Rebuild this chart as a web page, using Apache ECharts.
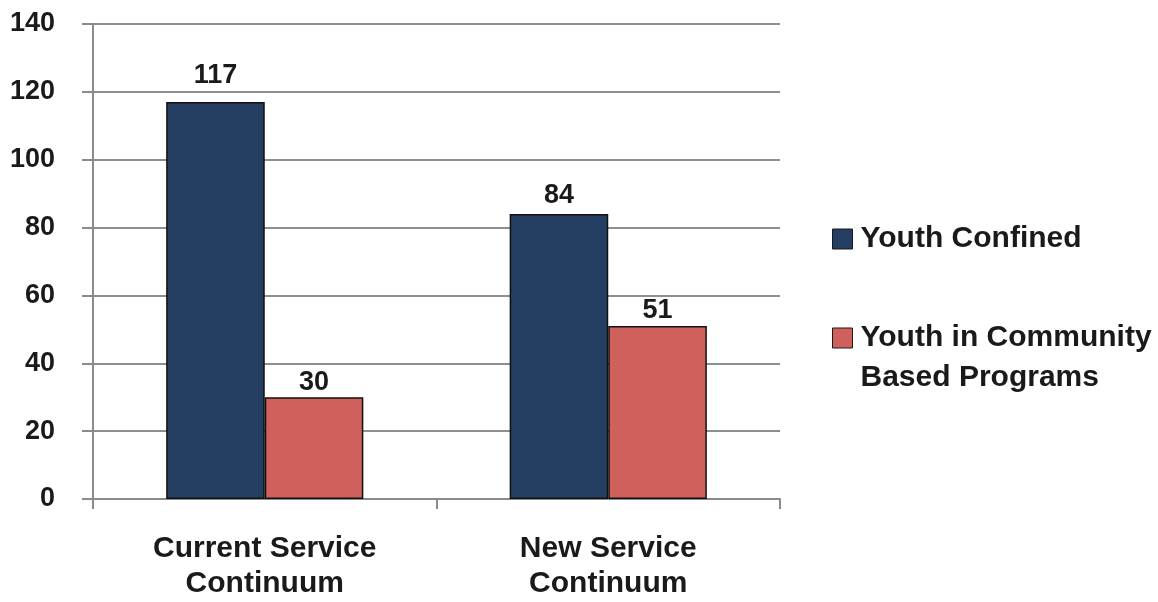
<!DOCTYPE html>
<html>
<head>
<meta charset="utf-8">
<style>
  html, body { margin: 0; padding: 0; background: #ffffff; }
  #chart { width: 1158px; height: 602px; }
</style>
<script src="https://cdn.jsdelivr.net/npm/echarts@6/dist/echarts.min.js"></script>
</head>
<body>
<div id="chart"></div>
<script>
// Categories and values
const categories = ['Current Service\nContinuum', 'New Service\nContinuum'];
const confined = [117, 84];
const community = [30, 51];
const seriesNames = ['Youth Confined', 'Youth in Community Based Programs'];
const yTicks = { min: 0, max: 140, interval: 20 };

// Gap (px) between each value label and the top of its bar
const confinedLabelGap = [13, 5];
const communityLabelGap = [1, 2];

const FONT = "'Liberation Sans Narrow', 'Arial Narrow', 'Liberation Sans', Arial, sans-serif";
const textStyle = { fontFamily: FONT, fontWeight: 'bold', color: '#1a1a1a' };

const chart = echarts.init(document.getElementById('chart'), null, { renderer: 'canvas' });

function barData(values, gaps) {
  return values.map(function (v, i) {
    return { value: v, label: { distance: gaps[i] } };
  });
}

const barLabel = {
  show: true,
  position: 'top',
  fontFamily: FONT,
  fontWeight: 'bold',
  fontSize: 27,
  color: '#1a1a1a'
};

chart.setOption({
  animation: false,
  backgroundColor: '#ffffff',
  grid: { left: 93, right: 378, top: 24, bottom: 103, containLabel: false },
  legend: {
    orient: 'vertical',
    left: 832,
    top: 219,
    padding: 0,
    itemWidth: 20,
    itemHeight: 20,
    itemGap: 19,
    icon: 'rect',
    data: seriesNames,
    // the two-line entry gets an empty first line so its icon lines up with "Youth in Community"
    formatter: function (name) {
      return name === seriesNames[1] ? '\nYouth in Community\nBased Programs' : name;
    },
    textStyle: Object.assign({}, textStyle, { fontSize: 30, lineHeight: 40, padding: [0, 0, 0, 3] }),
    itemStyle: { borderColor: '#1a1a1a', borderWidth: 1 }
  },
  xAxis: {
    type: 'category',
    data: categories,
    axisLine: { lineStyle: { color: '#8a8a8a', width: 2 } },
    axisTick: { show: true, length: 10, lineStyle: { color: '#8a8a8a', width: 2 } },
    axisLabel: Object.assign({}, textStyle, { fontSize: 30, lineHeight: 35, margin: 32 })
  },
  yAxis: {
    type: 'value',
    min: yTicks.min,
    max: yTicks.max,
    interval: yTicks.interval,
    axisLine: { show: true, lineStyle: { color: '#8a8a8a', width: 2 } },
    axisTick: { show: true, length: 11, lineStyle: { color: '#8a8a8a', width: 2 } },
    splitLine: { lineStyle: { color: '#8f8f8f', width: 2 } },
    axisLabel: Object.assign({}, textStyle, { fontSize: 27, margin: 38 })
  },
  series: [
    {
      name: seriesNames[0],
      type: 'bar',
      data: barData(confined, confinedLabelGap),
      barGap: '0%',
      barCategoryGap: '42.6%',
      itemStyle: { color: '#243f62', borderColor: '#111111', borderWidth: 1.5 },
      label: barLabel
    },
    {
      name: seriesNames[1],
      type: 'bar',
      data: barData(community, communityLabelGap),
      itemStyle: { color: '#d0605c', borderColor: '#111111', borderWidth: 1.5 },
      label: barLabel
    }
  ]
});
</script>
</body>
</html>
